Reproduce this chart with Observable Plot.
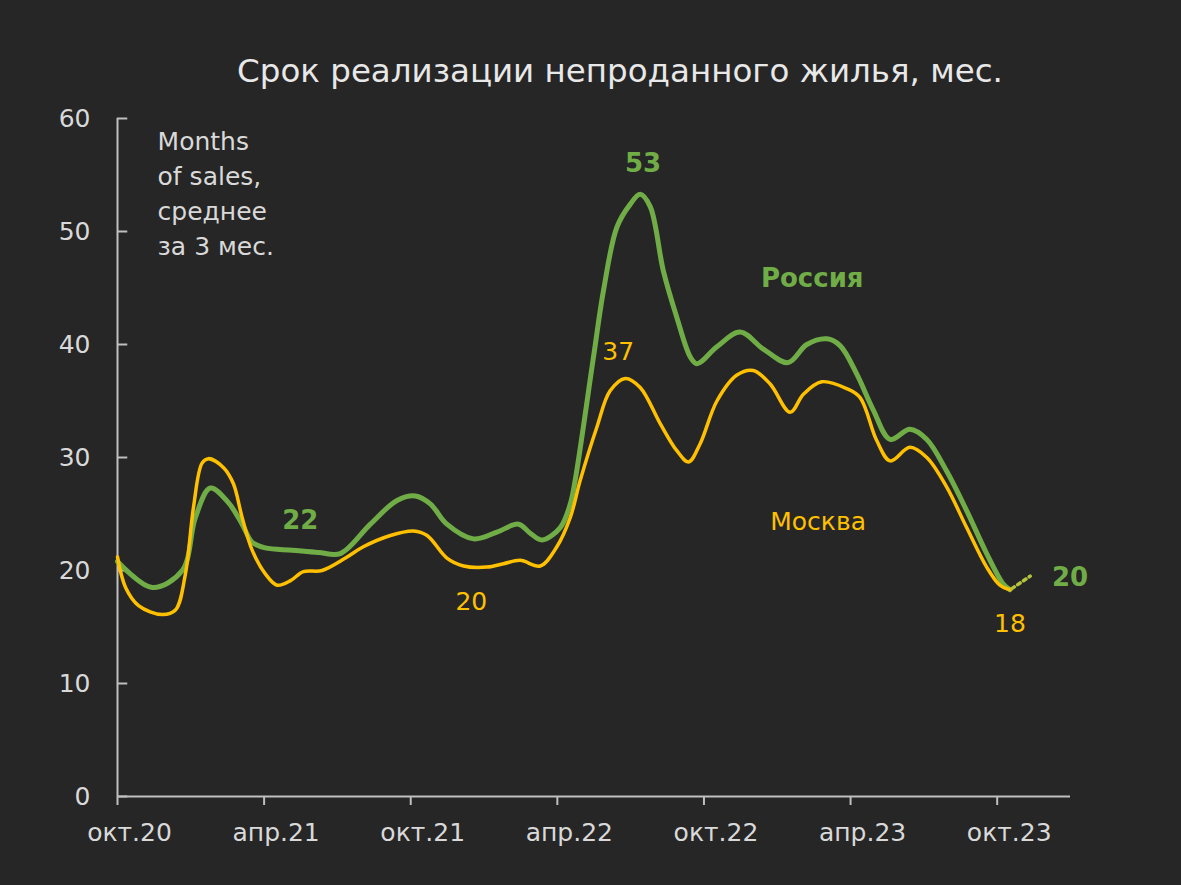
<!DOCTYPE html>
<html><head><meta charset="utf-8">
<script src="https://cdn.jsdelivr.net/npm/d3@7"></script>
<script src="https://cdn.jsdelivr.net/npm/@observablehq/plot@0.6"></script>
<style>
body{margin:0;background:#262626;width:1181px;height:885px;overflow:hidden;font-family:"DejaVu Sans",sans-serif;}
#title{height:90px;box-sizing:border-box;padding-top:55px;padding-left:59px;text-align:center;color:#e8e8e8;font-size:32.5px;line-height:1;white-space:nowrap;}
#chart{height:795px;}
</style></head><body>
<div id="title">Срок реализации непроданного жилья, мес.</div>
<div id="chart"></div>
<script>
// x = months since Oct 2020
const russiaT = [0,1.42,2.65,3.19,3.80,4.54,5.10,5.51,6.05,7.15,8.22,9.12,10.35,11.44,12.19,12.80,13.48,14.57,15.53,16.41,16.89,17.37,18.12,18.53,18.73,19.48,19.89,20.44,20.98,21.39,21.80,22.34,22.89,23.44,23.71,24.53,25.48,26.43,27.44,28.21,29.03,29.57,30.25,30.93,31.62,32.43,33.12,33.93,34.75,35.57,36.25,36.52];
const russiaV = [20.8,18.5,20.0,24.7,27.3,26.0,24.1,22.5,22.0,21.8,21.6,21.5,24.1,26.2,26.6,25.9,24.1,22.8,23.4,24.1,23.3,22.7,23.8,25.9,28.0,38.9,44.8,50.4,52.4,53.3,52.2,46.5,42.4,38.9,38.3,39.8,41.1,39.6,38.4,40.0,40.5,39.9,37.4,34.2,31.6,32.5,31.6,28.8,25.3,21.5,18.8,18.3];
const moscowT = [0,0.33,0.86,1.83,2.37,2.78,3.11,3.46,3.72,4.34,4.74,5.10,5.51,6.05,6.53,7.08,7.61,8.37,9.33,10.06,11.17,12.11,12.67,13.48,14.16,15.12,15.80,16.48,17.30,17.98,18.53,18.94,19.62,20.16,20.78,21.39,22.21,22.89,23.37,23.84,24.53,25.35,26.02,26.71,27.53,28.07,28.82,29.84,30.39,31.07,31.62,32.43,33.12,33.93,34.75,35.57,36.11,36.52];
const moscowV = [21.2,18.5,16.9,16.1,16.5,19.7,25.6,29.5,29.9,29.1,27.7,24.7,21.8,19.7,18.7,19.1,19.9,20.0,21.1,22.1,23.1,23.5,23.1,21.1,20.4,20.3,20.6,20.9,20.4,22.1,24.7,28.0,32.7,35.9,37.0,36.2,33.0,30.6,29.6,31.2,35.0,37.3,37.7,36.5,34.0,35.6,36.7,36.1,35.3,31.5,29.7,30.9,30.0,27.4,23.8,20.3,18.7,18.3];
const forecastT = [36.6,37.35];
const forecastV = [18.4,19.5];
const xTickMonths = [0,6,12,18,24,30,36];
const xTickLabels = ["окт.20","апр.21","окт.21","апр.22","окт.22","апр.23","окт.23"];
const yTicks = [0,10,20,30,40,50,60];

const russia = russiaT.map((t,i)=>({t, v: russiaV[i]}));
const moscow = moscowT.map((t,i)=>({t, v: moscowV[i]}));
const forecast = forecastT.map((t,i)=>({t, v: forecastV[i]}));

const GREEN = "#70ad47", GOLD = "#ffc000", AXIS = "#bfbfbf", TEXT = "#d9d9d9";
const greenLabels = [
  {t:21.51, v:56.0, s:"53"},
  {t:28.43, v:45.8, s:"Россия"},
  {t:7.48, v:24.4, s:"22"},
  {t:38.98, v:19.4, s:"20"}
];
const goldLabels = [
  {t:20.49, v:39.3, s:"37"},
  {t:28.67, v:24.3, s:"Москва"},
  {t:14.48, v:17.2, s:"20"},
  {t:36.52, v:15.3, s:"18"}
];
const note = [{t:1.64, v:59.4, s:"Months\nof sales,\nсреднее\nза 3 мес."}];
const FONT = '"DejaVu Sans",sans-serif';

const chart = Plot.plot({
  width:1181, height:795,
  marginLeft:117, marginRight:111, marginTop:28, marginBottom:89,
  style:{background:"transparent", color:TEXT, fontFamily:FONT, fontSize:"25px"},
  x:{domain:[0,39]},
  y:{domain:[0,60]},
  marks:[
    Plot.ruleY([0],{x1:0, x2:39, stroke:AXIS, strokeWidth:2}),
    Plot.ruleX([0],{y1:0, y2:60, stroke:AXIS, strokeWidth:2}),
    Plot.ruleY(yTicks,{x1:0, x2:0.42, stroke:AXIS, strokeWidth:2}),
    Plot.axisY({ticks:yTicks, tickSize:0, tickPadding:27, label:null, fontSize:25}),
    Plot.axisX({ticks:xTickMonths, tickFormat:()=>"", tickSize:9, label:null, stroke:AXIS, strokeWidth:2}),
    Plot.axisX({ticks:xTickMonths, tickFormat:d=>xTickLabels[xTickMonths.indexOf(d)], tickSize:0, tickPadding:27, dx:12, label:null, fontSize:25}),
    Plot.line(russia,{x:"t", y:"v", stroke:GREEN, strokeWidth:5, curve:"catmull-rom"}),
    Plot.line(moscow,{x:"t", y:"v", stroke:GOLD, strokeWidth:3.5, curve:"catmull-rom"}),
    Plot.line(forecast,{x:"t", y:"v", stroke:"#b4c43c", strokeWidth:3.5, strokeDasharray:"3,4", strokeLinecap:"round"}),
    Plot.text(greenLabels,{x:"t", y:"v", text:"s", fill:GREEN, fontWeight:"bold", fontSize:26}),
    Plot.text(goldLabels,{x:"t", y:"v", text:"s", fill:GOLD, fontSize:25}),
    Plot.text(note,{x:"t", y:"v", text:"s", fill:TEXT, fontSize:25, textAnchor:"start", lineAnchor:"top", lineHeight:1.4})
  ]
});
document.getElementById("chart").appendChild(chart);
</script></body></html>
